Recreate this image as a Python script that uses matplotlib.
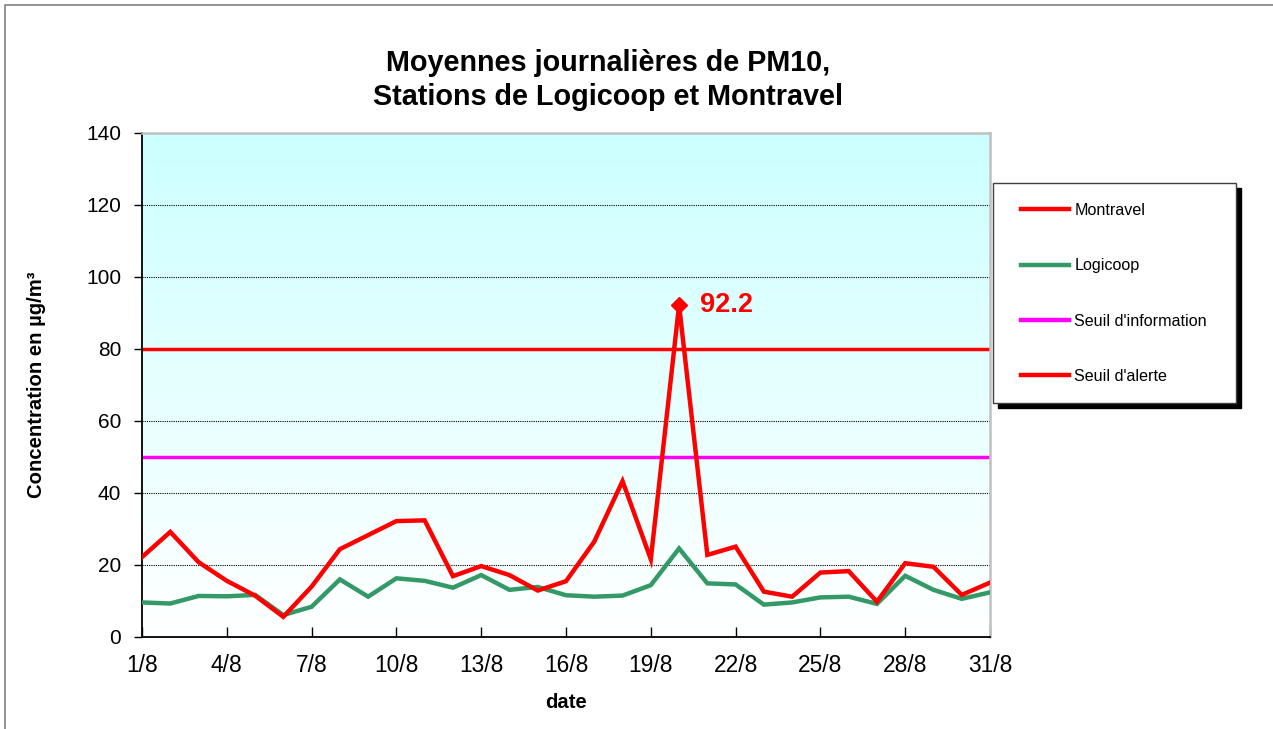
import matplotlib
matplotlib.use("Agg")
import matplotlib.pyplot as plt
import numpy as np
from matplotlib.patches import Rectangle
from matplotlib.lines import Line2D

plt.rcParams['font.family'] = ['Liberation Sans', 'DejaVu Sans']

# daily averages, August
days = list(range(1, 32))
montravel = [22.2, 29.2, 20.8, 15.6, 11.5, 5.6, 14.0, 24.4, 28.3, 32.2, 32.4,
             16.9, 19.7, 17.2, 12.9, 15.5, 26.5, 43.3, 21.6, 92.2, 22.8, 25.1,
             12.6, 11.2, 17.9, 18.3, 9.8, 20.5, 19.5, 11.7, 15.1]
logicoop = [9.6, 9.3, 11.4, 11.3, 11.7, 6.1, 8.4, 16.0, 11.2, 16.3, 15.6,
            13.7, 17.2, 13.1, 13.9, 11.6, 11.2, 11.5, 14.4, 24.6, 14.9, 14.6,
            9.0, 9.6, 11.0, 11.2, 9.2, 17.0, 13.1, 10.6, 12.4]
seuil_info = 50
seuil_alerte = 80
tick_days = list(range(1, 32, 3))
tick_labels = [str(d) + "/8" for d in tick_days]
peak_day = 20
peak_val = 92.2

W, H = 1273, 729
fig = plt.figure(figsize=(W / 100, H / 100), dpi=100)
ax = fig.add_axes([142 / W, 1 - 637 / H, (990 - 142) / W, (637 - 133) / H])

# gradient background
grad = np.linspace(0, 1, 256).reshape(-1, 1)
cmap = matplotlib.colors.LinearSegmentedColormap.from_list("bg", ["#ffffff", "#ccffff"])
ax.imshow(grad, cmap=cmap, aspect='auto', extent=[1, 31, 0, 140], origin='lower', zorder=0)

for yv in range(20, 140, 20):
    ax.axhline(yv, color='black', lw=0.8, ls=(0, (1, 1)), zorder=1)

ax.plot(days, montravel, color='#ff0000', lw=3.2, label='Montravel', zorder=4, solid_joinstyle='miter')
ax.plot(days, logicoop, color='#339966', lw=3.2, label='Logicoop', zorder=3, solid_joinstyle='miter')
ax.axhline(seuil_info, color='#ff00ff', lw=2.5, label="Seuil d'information", zorder=2)
ax.axhline(seuil_alerte, color='#ff0000', lw=2.5, label="Seuil d'alerte", zorder=2)

ax.plot([peak_day], [peak_val], marker='D', color='#ff0000', markersize=8, zorder=5)
ax.annotate(str(peak_val), (peak_day, peak_val), xytext=(15, 0), textcoords='offset points',
            color='#ff0000', fontsize=19.5, fontweight='bold', va='center', ha='left')

ax.set_xlim(1, 31)
ax.set_ylim(0, 140)
ax.set_yticks(range(0, 141, 20))
ax.set_xticks(tick_days)
ax.set_xticklabels(tick_labels)
ax.tick_params(axis='y', direction='out', length=6, width=1, pad=9, labelsize=15)
ax.tick_params(axis='x', direction='in', length=7, width=1, pad=12, labelsize=16.4)

for s in ['left', 'bottom']:
    ax.spines[s].set_color('black')
    ax.spines[s].set_linewidth(1.3)
for s in ['top', 'right']:
    ax.spines[s].set_color('#c0c0c0')
    ax.spines[s].set_linewidth(1.8)

ax.set_xlabel("date", fontsize=14.6, fontweight='bold', labelpad=12)
ax.set_ylabel("Concentration en µg/m³", fontsize=14.6, fontweight='bold', labelpad=29)

fig.text(608 / W, 1 - 80 / H, "Moyennes journalières de PM10,\nStations de Logicoop et Montravel",
         ha='center', va='center', fontsize=20.7, fontweight='bold', linespacing=1.25)

# legend box with shadow
bx0, bx1, by0, by1 = 993, 1236, 183, 403
fig.patches.append(Rectangle(((bx0 + 5) / W, 1 - (by1 + 5) / H), (bx1 - bx0) / W, (by1 - by0) / H,
                             transform=fig.transFigure, facecolor='black', edgecolor='black', zorder=1))
fig.patches.append(Rectangle((bx0 / W, 1 - by1 / H), (bx1 - bx0) / W, (by1 - by0) / H,
                             transform=fig.transFigure, facecolor='white', edgecolor='#404040',
                             lw=1, zorder=2))
leg = fig.legend(loc='upper left', bbox_to_anchor=(1021 / W, 1 - 203 / H), frameon=False,
                 fontsize=11.6, handlelength=3.0, handletextpad=0.3, labelspacing=2.5,
                 borderpad=0, borderaxespad=0)
for h in leg.legend_handles:
    h.set_linewidth(3.2)
leg.set_zorder(3)

# figure border (left and top edges)
fig.add_artist(Line2D([5 / W, 5 / W, 1], [0, 1 - 5 / H, 1 - 5 / H], transform=fig.transFigure,
                      color='#808080', lw=1.2))

fig.savefig("out.png", dpi=100)
